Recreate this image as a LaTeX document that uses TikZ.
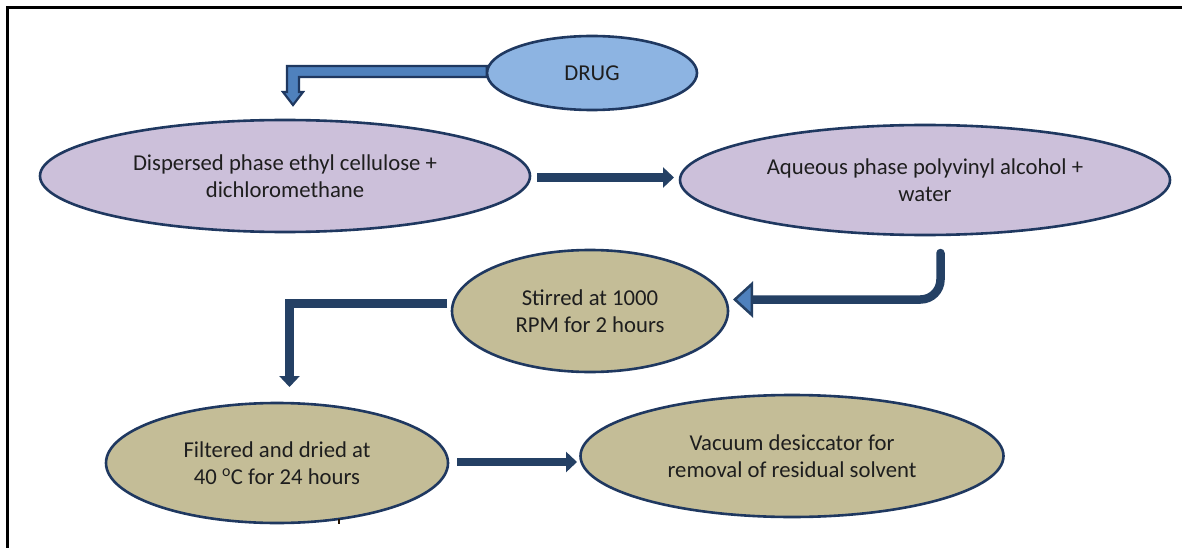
\documentclass[tikz,border=0pt]{standalone}
\usepackage{fontspec}
\setmainfont{Carlito}
\usetikzlibrary{shapes.geometric,arrows.meta,calc}
\definecolor{edge}{RGB}{31,56,96}
\definecolor{arrowc}{RGB}{36,64,100}
\definecolor{headblue}{RGB}{79,129,189}
\definecolor{drugfill}{RGB}{141,180,226}
\definecolor{lilac}{RGB}{204,192,218}
\definecolor{tan}{RGB}{196,189,151}
\definecolor{ink}{RGB}{30,30,30}
\tikzset{
  oval/.style={ellipse, draw=edge, line width=2.6pt, inner sep=0pt,
    text=ink, align=center, font=\fontsize{22.7}{27}\selectfont},
  flow/.style={draw=arrowc, line width=8.5pt,
    -{Triangle[length=11pt,width=20pt]}},
  bigflow/.style={draw=arrowc, line width=8.5pt, rounded corners=20pt,
    -{Triangle[length=20pt,width=36pt,fill=headblue,line width=2.5pt]}},
  blockarrow/.style={fill=headblue, draw=edge, line width=2.2pt, line join=miter},
  frame/.style={line width=3pt, black}
}
\begin{document}
\begin{tikzpicture}[x=1pt,y=-1pt]
\useasboundingbox (0,0) rectangle (1182,548);
\fill[white] (0,0) rectangle (1182,548);
% outer frame (top and left sides)
\draw[frame] (7,548) -- (7,8) -- (1182,8);

% process stages
\node[oval, fill=drugfill, minimum width=210pt, minimum height=74pt] (drug) at (592,73) {DRUG};
\node[oval, fill=lilac, minimum width=490pt, minimum height=112pt] (disp) at (285,176)
  {Dispersed phase ethyl cellulose +\\dichloromethane};
\node[oval, fill=lilac, minimum width=490pt, minimum height=110pt] (aq) at (925,180)
  {Aqueous phase polyvinyl alcohol +\\water};
\node[oval, fill=tan, minimum width=276pt, minimum height=122pt] (stir) at (590,311)
  {Stirred at 1000\\RPM for 2 hours};
\node[oval, fill=tan, minimum width=342pt, minimum height=120pt] (filt) at (277,463)
  {Filtered and dried at\\40 \textsuperscript{o}C for 24 hours};
\node[oval, fill=tan, minimum width=423pt, minimum height=122pt] (vac) at (792,456)
  {Vacuum desiccator for\\removal of residual solvent};

% bent block arrow from the drug down to the dispersed phase
\coordinate (dtip) at (293,105);
\path[blockarrow] ($(drug.west)+(1,-7)$) -- ($(dtip)+(-6,-39)$) -- ($(dtip)+(-6,-13)$)
  -- ($(dtip)+(-10,-13)$) -- (dtip) -- ($(dtip)+(10,-13)$) -- ($(dtip)+(6,-13)$)
  -- ($(dtip)+(6,-28)$) -- ($(drug.west)+(1,4)$) -- cycle;

% straight connectors
\coordinate (a1) at (537,177.5);
\coordinate (a2) at (674,177.5);
\draw[flow] (a1) -- (a2);

\coordinate (c1) at (940.5,253);
\coordinate (c2) at (733,299.5);
\draw[bigflow, line cap=round] (c1) |- (c2);

\coordinate (e1) at (447,303.5);
\coordinate (e2) at (289.5,387);
\draw[flow] (e1) -| (e2);

\coordinate (f1) at (457,462);
\coordinate (f2) at (577,462);
\draw[flow] (f1) -- (f2);

% small stray tick under the filtering stage
\draw[line width=1.6pt, black!85!orange] (339,519) -- (339,524);
\end{tikzpicture}
\end{document}
